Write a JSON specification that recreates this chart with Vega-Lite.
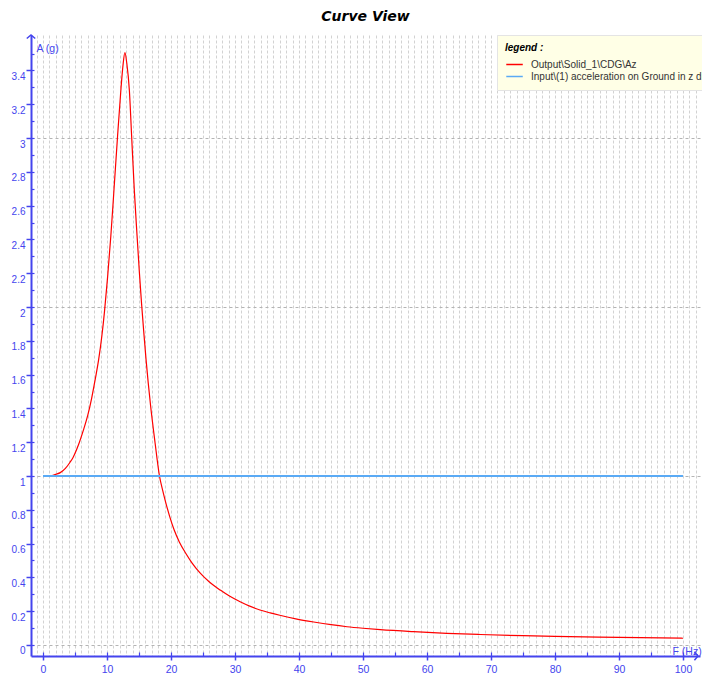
{
  "$schema": "https://vega.github.io/schema/vega-lite/v6.json",
  "width": 669,
  "height": 621,
  "autosize": {"type": "none"},
  "padding": {"left": 31, "top": 35, "right": 2, "bottom": 17},
  "background": "white",
  "title": {"text": "Curve View", "font": "DejaVu Sans", "fontSize": 14, "fontWeight": "bold", "fontStyle": "italic", "color": "black", "anchor": "middle", "offset": 14, "dy": 17, "baseline": "alphabetic"},
  "config": {
    "view": {"stroke": null},
    "axis": {"labelFont": "Liberation Sans", "titleFont": "Liberation Sans"}
  },
  "data": {
    "values": [
      {"f": 1.2, "a": 1.0, "k": "out", "s": "Output\\Solid_1\\CDG\\Az"},
      {"f": 2.0, "a": 1.01, "k": "out", "s": "Output\\Solid_1\\CDG\\Az"},
      {"f": 2.7, "a": 1.02, "k": "out", "s": "Output\\Solid_1\\CDG\\Az"},
      {"f": 3.5, "a": 1.045, "k": "out", "s": "Output\\Solid_1\\CDG\\Az"},
      {"f": 4.2, "a": 1.08, "k": "out", "s": "Output\\Solid_1\\CDG\\Az"},
      {"f": 4.7, "a": 1.11, "k": "out", "s": "Output\\Solid_1\\CDG\\Az"},
      {"f": 5.5, "a": 1.18, "k": "out", "s": "Output\\Solid_1\\CDG\\Az"},
      {"f": 6.3, "a": 1.27, "k": "out", "s": "Output\\Solid_1\\CDG\\Az"},
      {"f": 7.0, "a": 1.36, "k": "out", "s": "Output\\Solid_1\\CDG\\Az"},
      {"f": 7.6, "a": 1.46, "k": "out", "s": "Output\\Solid_1\\CDG\\Az"},
      {"f": 8.2, "a": 1.58, "k": "out", "s": "Output\\Solid_1\\CDG\\Az"},
      {"f": 8.7, "a": 1.69, "k": "out", "s": "Output\\Solid_1\\CDG\\Az"},
      {"f": 9.2, "a": 1.83, "k": "out", "s": "Output\\Solid_1\\CDG\\Az"},
      {"f": 9.6, "a": 1.97, "k": "out", "s": "Output\\Solid_1\\CDG\\Az"},
      {"f": 10.1, "a": 2.18, "k": "out", "s": "Output\\Solid_1\\CDG\\Az"},
      {"f": 10.6, "a": 2.42, "k": "out", "s": "Output\\Solid_1\\CDG\\Az"},
      {"f": 11.05, "a": 2.67, "k": "out", "s": "Output\\Solid_1\\CDG\\Az"},
      {"f": 11.65, "a": 3.01, "k": "out", "s": "Output\\Solid_1\\CDG\\Az"},
      {"f": 12.2, "a": 3.3, "k": "out", "s": "Output\\Solid_1\\CDG\\Az"},
      {"f": 12.5, "a": 3.43, "k": "out", "s": "Output\\Solid_1\\CDG\\Az"},
      {"f": 12.8, "a": 3.505, "k": "out", "s": "Output\\Solid_1\\CDG\\Az"},
      {"f": 13.1, "a": 3.44, "k": "out", "s": "Output\\Solid_1\\CDG\\Az"},
      {"f": 13.5, "a": 3.28, "k": "out", "s": "Output\\Solid_1\\CDG\\Az"},
      {"f": 13.85, "a": 3.01, "k": "out", "s": "Output\\Solid_1\\CDG\\Az"},
      {"f": 14.27, "a": 2.69, "k": "out", "s": "Output\\Solid_1\\CDG\\Az"},
      {"f": 14.7, "a": 2.42, "k": "out", "s": "Output\\Solid_1\\CDG\\Az"},
      {"f": 15.05, "a": 2.21, "k": "out", "s": "Output\\Solid_1\\CDG\\Az"},
      {"f": 15.4, "a": 2.02, "k": "out", "s": "Output\\Solid_1\\CDG\\Az"},
      {"f": 15.75, "a": 1.85, "k": "out", "s": "Output\\Solid_1\\CDG\\Az"},
      {"f": 16.1, "a": 1.69, "k": "out", "s": "Output\\Solid_1\\CDG\\Az"},
      {"f": 16.8, "a": 1.42, "k": "out", "s": "Output\\Solid_1\\CDG\\Az"},
      {"f": 17.5, "a": 1.2, "k": "out", "s": "Output\\Solid_1\\CDG\\Az"},
      {"f": 18.2, "a": 1.0, "k": "out", "s": "Output\\Solid_1\\CDG\\Az"},
      {"f": 18.7, "a": 0.915, "k": "out", "s": "Output\\Solid_1\\CDG\\Az"},
      {"f": 19.2, "a": 0.84, "k": "out", "s": "Output\\Solid_1\\CDG\\Az"},
      {"f": 19.8, "a": 0.76, "k": "out", "s": "Output\\Solid_1\\CDG\\Az"},
      {"f": 20.5, "a": 0.68, "k": "out", "s": "Output\\Solid_1\\CDG\\Az"},
      {"f": 21.3, "a": 0.61, "k": "out", "s": "Output\\Solid_1\\CDG\\Az"},
      {"f": 22.3, "a": 0.543, "k": "out", "s": "Output\\Solid_1\\CDG\\Az"},
      {"f": 23.3, "a": 0.485, "k": "out", "s": "Output\\Solid_1\\CDG\\Az"},
      {"f": 24.5, "a": 0.428, "k": "out", "s": "Output\\Solid_1\\CDG\\Az"},
      {"f": 26.0, "a": 0.373, "k": "out", "s": "Output\\Solid_1\\CDG\\Az"},
      {"f": 27.7, "a": 0.325, "k": "out", "s": "Output\\Solid_1\\CDG\\Az"},
      {"f": 29.2, "a": 0.288, "k": "out", "s": "Output\\Solid_1\\CDG\\Az"},
      {"f": 30.8, "a": 0.256, "k": "out", "s": "Output\\Solid_1\\CDG\\Az"},
      {"f": 32.3, "a": 0.23, "k": "out", "s": "Output\\Solid_1\\CDG\\Az"},
      {"f": 33.9, "a": 0.207, "k": "out", "s": "Output\\Solid_1\\CDG\\Az"},
      {"f": 35.5, "a": 0.19, "k": "out", "s": "Output\\Solid_1\\CDG\\Az"},
      {"f": 37.0, "a": 0.176, "k": "out", "s": "Output\\Solid_1\\CDG\\Az"},
      {"f": 39.5, "a": 0.155, "k": "out", "s": "Output\\Solid_1\\CDG\\Az"},
      {"f": 42.3, "a": 0.136, "k": "out", "s": "Output\\Solid_1\\CDG\\Az"},
      {"f": 45.0, "a": 0.12, "k": "out", "s": "Output\\Solid_1\\CDG\\Az"},
      {"f": 47.5, "a": 0.108, "k": "out", "s": "Output\\Solid_1\\CDG\\Az"},
      {"f": 50.0, "a": 0.099, "k": "out", "s": "Output\\Solid_1\\CDG\\Az"},
      {"f": 52.7, "a": 0.091, "k": "out", "s": "Output\\Solid_1\\CDG\\Az"},
      {"f": 57.9, "a": 0.079, "k": "out", "s": "Output\\Solid_1\\CDG\\Az"},
      {"f": 63.1, "a": 0.069, "k": "out", "s": "Output\\Solid_1\\CDG\\Az"},
      {"f": 68.3, "a": 0.062, "k": "out", "s": "Output\\Solid_1\\CDG\\Az"},
      {"f": 75.0, "a": 0.055, "k": "out", "s": "Output\\Solid_1\\CDG\\Az"},
      {"f": 80.0, "a": 0.051, "k": "out", "s": "Output\\Solid_1\\CDG\\Az"},
      {"f": 90.0, "a": 0.045, "k": "out", "s": "Output\\Solid_1\\CDG\\Az"},
      {"f": 100.0, "a": 0.04, "k": "out", "s": "Output\\Solid_1\\CDG\\Az"},
      {"f": 0.0, "a": 1.0, "k": "in", "s": "Input\\(1) acceleration on Ground in z direction"},
      {"f": 100.0, "a": 1.0, "k": "in", "s": "Input\\(1) acceleration on Ground in z direction"}
    ]
  },
  "layer": [
    {
      "mark": {"type": "line", "interpolate": "monotone"},
      "encoding": {
        "x": {"field": "f", "type": "quantitative",
          "scale": {"domain": [-1.875, 102.66], "nice": false, "zero": false},
          "axis": {"orient": "bottom", "grid": true, "ticks": false, "labels": false, "domain": false, "title": null,
            "values": [-1,0,1,2,3,4,5,6,7,8,9,10,11,12,13,14,15,16,17,18,19,20,21,22,23,24,25,26,27,28,29,30,31,32,33,34,35,36,37,38,39,40,41,42,43,44,45,46,47,48,49,50,51,52,53,54,55,56,57,58,59,60,61,62,63,64,65,66,67,68,69,70,71,72,73,74,75,76,77,78,79,80,81,82,83,84,85,86,87,88,89,90,91,92,93,94,95,96,97,98,99,100,101,102],
            "gridColor": "#d2d2d2", "gridDash": [3, 2], "gridWidth": 1}},
        "y": {"field": "a", "type": "quantitative",
          "scale": {"domain": [-0.0651, 3.6095], "nice": false, "zero": false},
          "axis": {"orient": "left", "grid": true, "ticks": false, "labels": false, "domain": false, "title": null,
            "values": [0, 1, 2, 3], "gridColor": "#b4b4b4", "gridDash": [3, 3], "gridWidth": 1}},
        "color": {"field": "s", "type": "nominal",
          "scale": {"domain": ["Output\\Solid_1\\CDG\\Az", "Input\\(1) acceleration on Ground in z direction"], "range": ["#ff0000", "#5aaaf5"]},
          "legend": {"orient": "none", "legendX": 466, "legendY": 0, "title": "legend  :",
            "titleFont": "Liberation Sans", "titleFontSize": 10, "titleFontWeight": "bold", "titleFontStyle": "italic", "titleColor": "black", "titlePadding": 5,
            "labelFont": "Liberation Sans", "labelFontSize": 10, "labelColor": "#333333", "labelLimit": 0, "labelOffset": 13,
            "symbolType": "M-0.95,0L2.05,0", "symbolSize": 121, "symbolStrokeWidth": 1.5,
            "fillColor": "#ffffe6", "strokeColor": "#e4e4e4", "padding": 8, "rowPadding": 0, "direction": "vertical"}},
        "strokeWidth": {"field": "k", "type": "nominal", "scale": {"domain": ["out", "in"], "range": [1.2, 2]}, "legend": null}
      }
    },
    {
      "data": {"values": [{}]},
      "mark": {"type": "point", "shape": "M-1.2,1L0,0L1.2,1", "filled": false, "stroke": "#4444ee", "strokeWidth": 1.5, "size": 50, "opacity": 1},
      "encoding": {
        "x": {"datum": -1.875, "type": "quantitative",
          "axis": {"orient": "bottom", "grid": false, "values": [0,10,20,30,40,50,60,70,80,90,100], "format": "d",
            "tickSize": 4, "tickColor": "#4444ee", "tickWidth": 1.5, "domainColor": "#4444ee", "domainWidth": 2,
            "labelColor": "#4444ee", "labelFontSize": 10.5, "labelPadding": 4, "labelFlush": false, "labelOverlap": false,
            "title": "F (Hz)", "titleX": 641, "titleY": -2, "titleAlign": "left", "titleBaseline": "alphabetic", "titleAngle": 0,
            "titleFontWeight": "normal", "titleColor": "#4444ee", "titleFontSize": 10.5, "zindex": 1}},
        "y": {"datum": 3.6095, "type": "quantitative",
          "axis": {"orient": "left", "grid": false, "values": [0,0.2,0.4,0.6,0.8,1,1.2,1.4,1.6,1.8,2,2.2,2.4,2.6,2.8,3,3.2,3.4], "format": "~g",
            "tickSize": 5, "tickColor": "#4444ee", "tickWidth": 1.5, "domainColor": "#4444ee", "domainWidth": 2,
            "labelColor": "#4444ee", "labelFontSize": 10, "labelPadding": 1, "labelOffset": 6, "labelFlush": false, "labelOverlap": false,
            "title": "A (g)", "titleX": 5, "titleY": 16, "titleAlign": "left", "titleBaseline": "alphabetic", "titleAngle": 0,
            "titleFontWeight": "normal", "titleColor": "#4444ee", "titleFontSize": 10.5, "zindex": 1}}
      }
    },
    {
      "data": {"values": [{}]},
      "mark": {"type": "point", "shape": "M-1,-1.2L0,0L-1,1.2", "filled": false, "stroke": "#4444ee", "strokeWidth": 1.5, "size": 50, "opacity": 1},
      "encoding": {
        "x": {"datum": 102.34, "type": "quantitative",
          "axis": {"orient": "bottom", "grid": false, "labels": false, "domain": false, "title": null,
            "values": [0,5,10,15,20,25,30,35,40,45,50,55,60,65,70,75,80,85,90,95,100],
            "tickSize": -4, "tickColor": "#4444ee", "tickWidth": 1.2, "zindex": 1}},
        "y": {"datum": -0.0651, "type": "quantitative",
          "axis": {"orient": "left", "grid": false, "labels": false, "domain": false, "title": null,
            "values": [0,0.1,0.2,0.3,0.4,0.5,0.6,0.7,0.8,0.9,1,1.1,1.2,1.3,1.4,1.5,1.6,1.7,1.8,1.9,2,2.1,2.2,2.3,2.4,2.5,2.6,2.7,2.8,2.9,3,3.1,3.2,3.3,3.4,3.5],
            "tickSize": -3, "tickColor": "#4444ee", "tickWidth": 1.2, "zindex": 1}}
      }
    }
  ],
  "resolve": {"axis": {"x": "independent", "y": "independent"}}
}
